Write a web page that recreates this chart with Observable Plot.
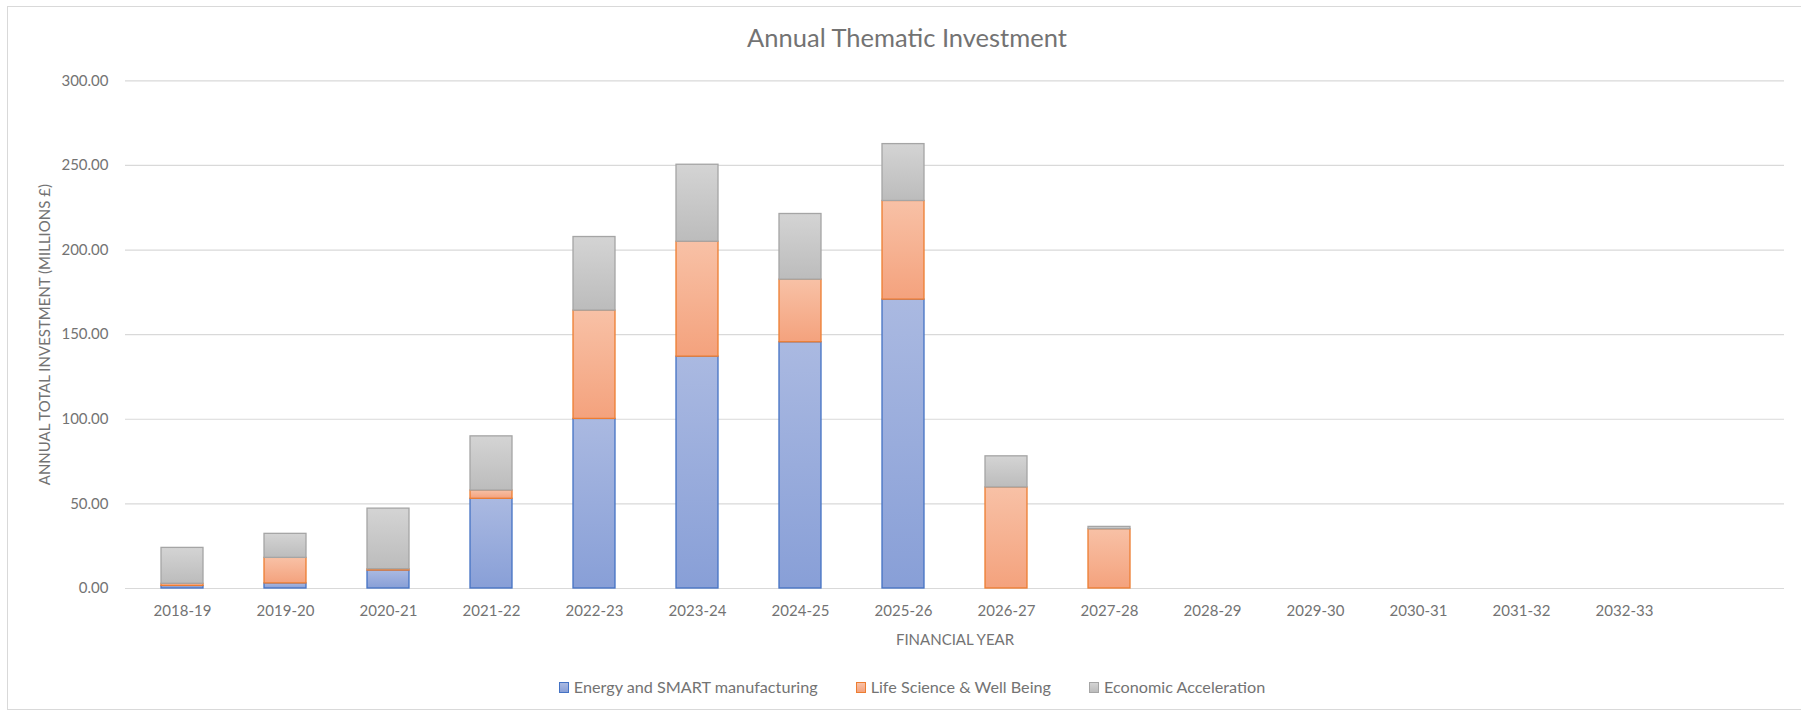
<!DOCTYPE html>
<html>
<head>
<meta charset="utf-8">
<script src="https://cdn.jsdelivr.net/npm/d3@7"></script>
<script src="https://cdn.jsdelivr.net/npm/@observablehq/plot@0.6"></script>
<style>
  html, body { margin: 0; padding: 0; background: #ffffff; }
  #wrap { position: relative; width: 1801px; height: 713px; overflow: hidden; font-family: Lato, "Open Sans", sans-serif; }
  #frame { position: absolute; left: 7px; top: 6px; width: 1800px; height: 704px; border: 1px solid #d9d9d9; box-sizing: border-box; }
  #title { position: absolute; left: 0; top: 25px; width: 1814px; text-align: center; font-size: 25.5px; line-height: 25px; color: #737373; }
  #chart { position: absolute; left: 0; top: 0; }
  #legend { position: absolute; left: 0; top: 677px; width: 1824px; display: flex; justify-content: center; font-size: 16.2px; line-height: 20px; color: #737373; }
  .item { display: flex; align-items: center; margin: 0 19px; }
  .sw { width: 10px; height: 11px; margin-right: 5px; box-sizing: border-box; }
</style>
</head>
<body>
<div id="wrap">
  <div id="frame"></div>
  <div id="title">Annual Thematic Investment</div>
  <div id="chart"></div>
  <div id="legend"></div>
</div>
<script>
// ---- data ----
const years = ["2018-19","2019-20","2020-21","2021-22","2022-23","2023-24","2024-25","2025-26","2026-27","2027-28","2028-29","2029-30","2030-31","2031-32","2032-33"];
const xTickLabels = [...years, ""];
const seriesNames = ["Energy and SMART manufacturing", "Life Science & Well Being", "Economic Acceleration"];
const energy = [1.5, 3.0, 10.6, 53.0, 100.2, 137.0, 145.5, 170.7, 0, 0, 0, 0, 0, 0, 0];
const lifeScience = [1.3, 15.1, 0.8, 4.9, 64.0, 67.9, 37.0, 58.3, 59.7, 35.0, 0, 0, 0, 0, 0];
const economic = [21.2, 14.2, 35.8, 32.0, 43.5, 45.5, 38.8, 33.6, 18.4, 1.4, 0, 0, 0, 0, 0];
const yTicks = [0, 50, 100, 150, 200, 250, 300];

// ---- styles ----
const gradIds = ["gEnergy", "gLife", "gEcon"];
const gradStops = [["#aab9e1", "#889fd7"], ["#f8c1a6", "#f4a27d"], ["#d4d4d4", "#bcbcbc"]];
const strokeCols = ["#4472c4", "#ed7d31", "#a5a5a5"];
const textCol = "#737373";

const valuesBySeries = [energy, lifeScience, economic];
const rows = [];
seriesNames.forEach((s, si) => {
  years.forEach((y, i) => {
    const v = valuesBySeries[si][i];
    if (v > 0) rows.push({year: y, series: s, si, value: v});
  });
});

const chart = Plot.plot({
  width: 1801,
  height: 713,
  marginTop: 80.3,
  marginBottom: 125,
  marginLeft: 125,
  marginRight: 17,
  style: {fontFamily: "Lato, 'Open Sans', sans-serif", fontSize: "15px", color: textCol, background: "transparent", overflow: "visible"},
  x: {domain: xTickLabels, paddingInner: 0.595, paddingOuter: 0.2975, label: null},
  y: {domain: [0, 300], label: null},
  marks: [
    Plot.gridY(yTicks, {stroke: "#d9d9d9", strokeOpacity: 1, strokeWidth: 1.2}),
    Plot.barY(rows, Plot.stackY({
      x: "year", y: "value", z: "series", order: null,
      fill: d => `url(#${gradIds[d.si]})`,
      stroke: d => strokeCols[d.si],
      strokeWidth: 1.3
    })),
    Plot.axisY(yTicks, {
      tickSize: 0, tickPadding: 17, tickFormat: d3.format(".2f"),
      fill: textCol, fontSize: 15,
      label: "ANNUAL TOTAL INVESTMENT (MILLIONS £)", labelAnchor: "center", labelOffset: 86, labelArrow: "none"
    }),
    Plot.axisX({
      tickSize: 0, tickPadding: 17, fill: textCol, fontSize: 15,
      label: "FINANCIAL YEAR", labelAnchor: "center", labelOffset: 56, labelArrow: "none"
    })
  ]
});

// gradient definitions (vertical, per bar segment)
const defs = d3.create("svg:defs");
gradIds.forEach((id, i) => {
  const g = defs.append("linearGradient").attr("id", id).attr("x1", 0).attr("y1", 0).attr("x2", 0).attr("y2", 1);
  g.append("stop").attr("offset", "0%").attr("stop-color", gradStops[i][0]);
  g.append("stop").attr("offset", "100%").attr("stop-color", gradStops[i][1]);
});
chart.insertBefore(defs.node(), chart.firstChild);
document.getElementById("chart").appendChild(chart);

// legend
const legend = d3.select("#legend");
seriesNames.forEach((s, i) => {
  const it = legend.append("div").attr("class", "item");
  it.append("div").attr("class", "sw")
    .style("background", `linear-gradient(${gradStops[i][0]}, ${gradStops[i][1]})`)
    .style("border", `1px solid ${strokeCols[i]}`);
  it.append("span").text(s);
});
</script>
</body>
</html>
